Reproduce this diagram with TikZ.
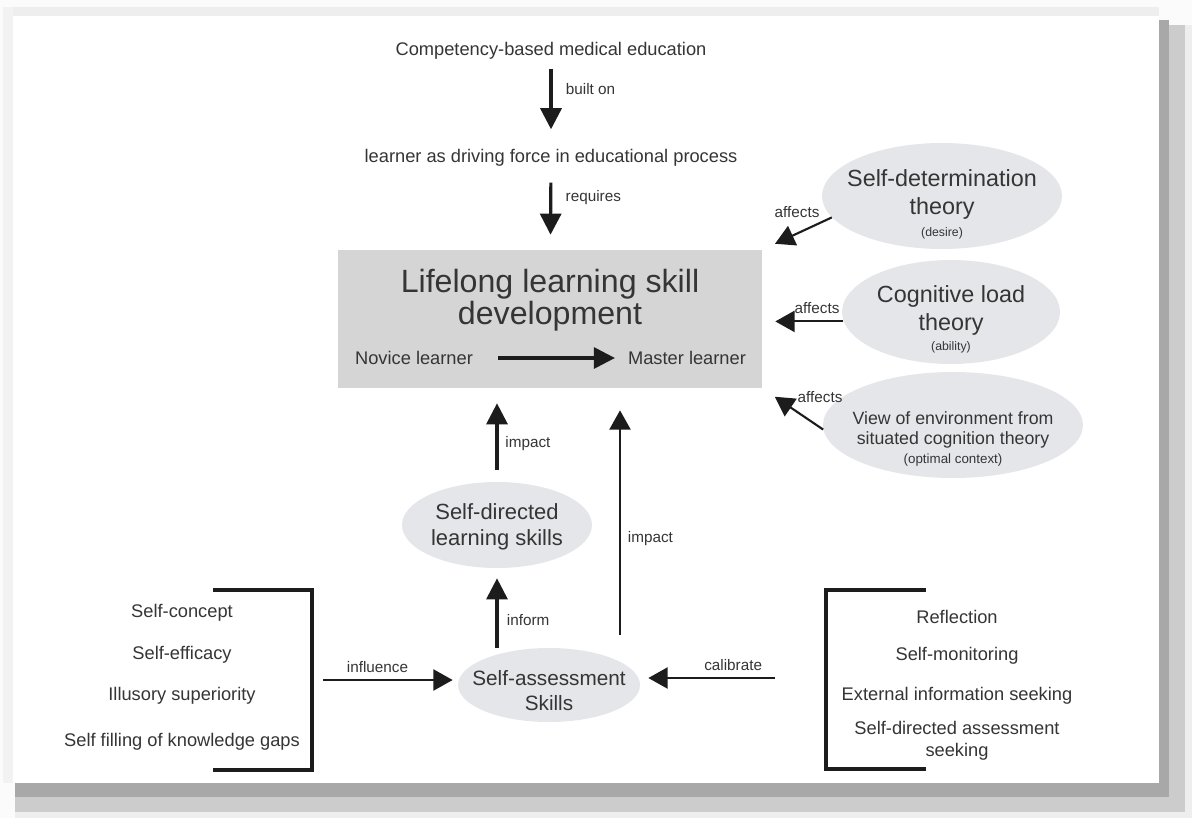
\documentclass[tikz,border=0pt]{standalone}
\usepackage{fontspec}
\setmainfont{Liberation Sans}
\usetikzlibrary{positioning,shapes.geometric,arrows.meta}
\definecolor{boxgray}{HTML}{D5D5D5}
\definecolor{ovalgray}{HTML}{E4E6E9}
\definecolor{txtgray}{HTML}{353535}
\definecolor{arrowblack}{HTML}{1C1C1C}
\tikzset{bigarrow/.style = {draw=arrowblack, line width=1.8pt, -{Triangle[length=12pt,width=12pt]}},
         thinarrow/.style = {draw=arrowblack, line width=1.2pt, -{Triangle[length=11pt,width=12pt]}},
         oval/.style = {ellipse, fill=ovalgray, inner sep=0pt},
         ovaltext/.style = {align=center, text=txtgray, inner sep=0pt},
         lbl/.style = {font=\fontsize{8.7}{10}\selectfont, text=txtgray},
         plain/.style = {font=\fontsize{10.4}{12.5}\selectfont, text=txtgray, align=center}}

\begin{document}
\begin{tikzpicture}[x=0.02cm, y=-0.02cm]
  \useasboundingbox (0,0) rectangle (1192,818);
  % page frame with shadow
  \fill[gray!3] (0,0) rectangle (1192,818);
  \fill[gray!13] (3,7) rectangle (1159,16);
  \fill[gray!10] (3,7) rectangle (13,783);
  \fill[gray!13] (15,812) rectangle (1192,818);
  \fill[gray!13] (1185,25) rectangle (1192,818);
  \fill[gray!40] (15,797) rectangle (1185,812);
  \fill[gray!40] (1169,25) rectangle (1185,812);
  \fill[gray!68] (15,783) rectangle (1169,797);
  \fill[gray!68] (1159,20) rectangle (1169,797);
  \fill[white] (13,16) rectangle (1159,783);

  % top chain
  \node[plain] (cbme) at (551,51) {Competency-based medical education};
  \node[plain] (driver) at (551,158) {learner as driving force in educational process};
  \node[rectangle, fill=boxgray, minimum width=8.48cm, minimum height=2.76cm] (box) at (550,319) {};
  \node[text=txtgray, font=\fontsize{18.3}{18.3}\selectfont, align=center] (title) at (550,300) {Lifelong learning skill\\development};
  \node[plain] (novice) at (414,358) {Novice learner};
  \node[plain] (master) at (687,358) {Master learner};
  \draw[bigarrow, shorten <=0.06cm, shorten >=0.28cm] (cbme) -- (driver) node[lbl, pos=.3, right=0.15cm] {built on};
  \draw[bigarrow, shorten <=0.2cm, shorten >=0.3cm] (driver) -- (box) node[lbl, pos=.32, right=0.15cm] {requires};
  \draw[bigarrow, shorten <=0.38cm, shorten >=0.14cm] (novice) -- (master);

  % theories on the right
  \node[oval, minimum width=4.8cm, minimum height=2.12cm] (sdt) at (942,196) {};
  \node[oval, minimum width=4.36cm, minimum height=2.08cm] (cog) at (951,312) {};
  \node[oval, minimum width=5.2cm, minimum height=2.12cm] (env) at (953,425) {};
  \node[ovaltext, font=\fontsize{13.3}{16}\selectfont] (sdttext) at (942,204)
    {Self-determination\\theory\\[-3.5pt]{\fontsize{7}{8}\selectfont(desire)}};
  \node[ovaltext, font=\fontsize{13.3}{16}\selectfont] (cogtext) at (951,319)
    {Cognitive load\\theory\\[-4.7pt]{\fontsize{7}{8}\selectfont(ability)}};
  \node[ovaltext, font=\fontsize{10.1}{11.3}\selectfont] (envtext) at (953,439)
    {View of environment from\\situated cognition theory\\{\fontsize{7.6}{8}\selectfont(optimal context)}};
  \node[lbl] (aff1) at (797,212) {affects};
  \node[lbl] (aff2) at (817,308) {affects};
  \node[lbl] (aff3) at (820,397) {affects};
  \draw[thinarrow, shorten >=0.28cm] (sdt.191) -- (box.north east);
  \draw[thinarrow, shorten >=0.26cm] (cog.185) -- (cog.185 -| box.east);
  \draw[thinarrow, shorten >=0.3cm] (env.182) -- (box.south east);

  % skills
  \node[oval, minimum width=3.8cm, minimum height=1.72cm] (sdl) at (497,525) {};
  \node[oval, minimum width=3.64cm, minimum height=1.48cm] (sas) at (549,685) {};
  \node[ovaltext, font=\fontsize{12.5}{14.7}\selectfont] (sdltext) at (497,527) {Self-directed\\learning skills};
  \node[ovaltext, font=\fontsize{11.8}{14.2}\selectfont] (sastext) at (549,691) {Self-assessment\\Skills};
  \coordinate (imp) at (620,635);
  \draw[bigarrow, shorten <=0.24cm, shorten >=0.3cm] (sdl.north) -- (sdl.north |- box.south) node[lbl, pos=.41, right=0.02cm] {impact};
  \draw[bigarrow, shorten >=0.2cm] (sdl.south |- sas.north) -- (sdl.south) node[lbl, pos=.35, right=0.05cm] {inform};
  \draw[thinarrow, shorten >=0.44cm] (imp) -- (imp |- box.south) node[lbl, pos=.39, right=0.02cm] {impact};

  % bracketed lists
  \foreach \txt/\y [count=\i] in {Self-concept/613, Self-efficacy/655, Illusory superiority/696, Self filling of knowledge gaps/742}
    \node[plain] (left\i) at (182,\y) {\txt};
  \foreach \txt/\y [count=\i] in {Reflection/617, Self-monitoring/656, External information seeking/696, Self-directed assessment\\seeking/741}
    \node[plain] (right\i) at (957,\y) {\txt};
  \draw[line width=2.3pt, arrowblack] (213,590) -- (312,590) -- (312,770) -- (213,770);
  \draw[line width=2.3pt, arrowblack] (926,590) -- (826,590) -- (826,769) -- (926,769);
  \coordinate (lbr) at (312,680);
  \coordinate (rbr) at (826,678);
  \draw[thinarrow, shorten <=0.22cm, shorten >=0.1cm] (lbr) -- (lbr -| sas.west) node[lbl, pos=.45, above] {influence};
  \draw[thinarrow, shorten <=1.02cm, shorten >=0.16cm] (rbr) -- (rbr -| sas.east) node[lbl, pos=.5, above] {calibrate};
\end{tikzpicture}
\end{document}
